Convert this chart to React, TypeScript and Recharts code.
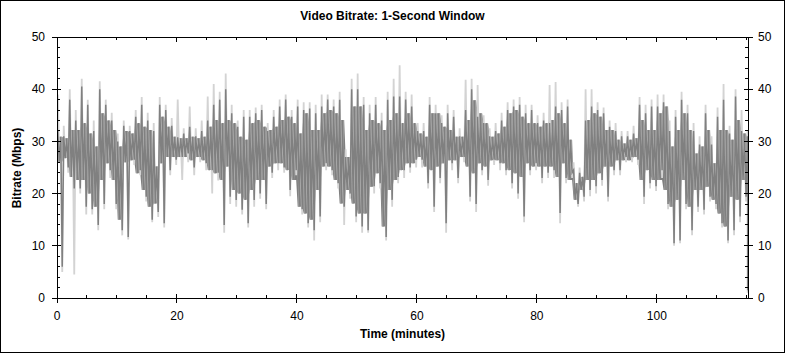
import React from "react";
import { ComposedChart, Area, Line, XAxis, YAxis } from "recharts";

// per-minute readings (Mbps): outer extremes of the dark trace
const hiDark = [
  32, 31, 38, 34, 40.5, 37, 32, 40, 37, 34, 30, 33, 32, 34.7, 37, 34, 32, 37, 36, 33,
  30.8, 31.5, 32.8, 31, 32, 34, 37, 38, 40, 35.4, 32.8, 34.7, 34.7, 35.4, 36, 32, 34.7, 36.7, 38, 34.7,
  36.7, 36, 36.3, 35.4, 36.7, 38, 36.7, 38, 27, 40, 40, 37, 35.4, 37, 34, 38, 38.6, 38.6, 38, 36.7,
  32, 32, 37, 35.4, 33.5, 35.4, 34.7, 31, 36, 40, 34.7, 33.5, 31, 32, 34, 36, 36.7, 37, 35.4, 36,
  33.5, 34, 33.5, 36.7, 36, 36.7, 24.5, 24, 34, 36.7, 36, 35.4, 32.8, 32, 31, 31, 31.5, 37, 35.4, 36.7,
  36.7, 37.5, 32, 34.7, 38, 35.4, 32, 29.4, 35.4, 29.4, 34.7, 38, 31.5, 38.6, 32, 31,
];
const loDark = [
  6, 25, 21, 21, 17.5, 17, 14, 18, 24.5, 18, 13, 11.7, 26.5, 24.5, 19.4, 15, 16.5, 14.3, 24.5, 26.5,
  27, 27.7, 25, 27, 25.8, 24.5, 24, 14, 19.4, 18.8, 16.9, 14.3, 18.8, 20, 18, 24, 25.8, 25, 20.7, 24.5,
  17, 14.3, 13, 15.6, 25.8, 24.5, 22, 17.5, 20, 15.6, 13.7, 13, 21.4, 22, 11.7, 18.8, 23.2, 24.5, 25, 26.5,
  26.5, 22, 17.5, 23, 14.3, 25.8, 23, 27, 19.4, 18, 24.5, 22.6, 26.5, 25.8, 24.5, 22, 20, 15.6, 24.5, 25.8,
  23, 24, 24.5, 16.3, 23, 24, 18, 19.4, 20.7, 21.4, 22.6, 19.4, 24.5, 24.5, 27, 27, 26.5, 19.4, 22, 21.4,
  24.5, 18, 10.5, 11, 18, 13, 17.5, 16.9, 19.4, 18, 14.3, 11, 13, 15.6, 19.4, 1.5,
];
// dense core of the trace
const coreHi = [
  30.9, 30.6, 32.2, 32.2, 33.5, 31.5, 29, 35.4, 34, 32.2, 29, 32, 31.5, 33.5, 32.8, 32.2, 25.2, 34.7, 32.8, 30.9,
  30.6, 30.6, 30.9, 30.6, 30.9, 32.8, 34.1, 33.5, 34.1, 33.5, 30.9, 30.3, 33.5, 34.1, 32.8, 32.2, 32.8, 34.1, 34.7, 33.5,
  31.5, 35.4, 32.2, 32.2, 35.4, 36, 35.4, 34.1, 27, 36.7, 36.7, 32.2, 34.1, 33.5, 32.2, 34.1, 35.4, 33.5, 35.4, 33.5,
  31.5, 30.9, 35.4, 35.4, 32.8, 32.2, 30.9, 30.9, 34.1, 37.9, 35.4, 33.5, 30.9, 31.5, 32.8, 35.4, 36, 34.7, 33.5, 33.5,
  32.8, 33.5, 34.1, 35.4, 33.5, 30.3, 22, 23.2, 34.1, 35.4, 34.7, 32.2, 32.2, 30.3, 29.6, 30.3, 30.6, 34.1, 32.2, 32.2,
  35.4, 36.7, 29, 32.2, 35.4, 32.2, 27.7, 29, 32.2, 25.8, 32.2, 32.2, 30.3, 34.1, 31.5, 30.3,
];
const coreLo = [
  26.1, 26.8, 23.2, 22.6, 22.6, 20, 17.5, 22.6, 25.8, 22.6, 15, 26, 26.4, 23.9, 20.7, 17.5, 18.1, 25.8, 27, 27,
  27, 27, 26.4, 27, 26.4, 24.5, 23.9, 22.6, 25.2, 20.7, 20, 18.8, 20.7, 22.6, 22.6, 25.2, 25.8, 25.8, 24.5, 22.6,
  17.5, 16.2, 15, 20.7, 25.2, 25.2, 22.6, 18.1, 20.7, 18.1, 16.2, 16.2, 21.3, 23.9, 13.7, 20.7, 22.6, 24.5, 25.8, 25.8,
  27, 25.2, 24.5, 25.2, 25.8, 26.4, 26.4, 27, 25.2, 23.9, 25.8, 25.2, 26.4, 26.4, 25.8, 24.5, 23.9, 23.2, 25.8, 25.2,
  25.2, 25.2, 25.2, 23.2, 25.8, 22.6, 18.8, 20.7, 22.6, 22.6, 23.9, 25.2, 25.2, 26.4, 26.4, 26.4, 27, 22.6, 24.5, 22.6,
  22.6, 20.7, 17.5, 18.8, 22.6, 17.5, 20.7, 20.7, 21.3, 18.8, 16.2, 13.7, 19.4, 18.8, 22.6, 25.2,
];
// light grey peaks around the dark trace
const hiLight = [
  39, 33, 40, 36, 42, 38, 34, 41.5, 38, 35.5, 31.5, 34, 33, 36, 38.5, 35.5, 33.5, 38.5, 37, 34.5,
  38, 32.5, 36.7, 32.5, 34, 38.6, 41, 39.5, 43, 37, 34, 36, 36, 36.5, 37, 33.5, 36, 38, 39, 36,
  38, 37.5, 37.5, 37, 39, 39, 38, 39.5, 28.5, 42, 43, 38.5, 37, 38.5, 35.5, 39.5, 42, 44.6, 39.5, 39,
  33.5, 33.5, 38.5, 37, 35, 37, 36, 32.5, 41.8, 42, 40.8, 35, 32.5, 33.5, 35.5, 37.5, 38, 38.5, 37, 37,
  35, 35.5, 40.8, 41.4, 37.5, 38, 26, 25, 40, 40, 37.5, 36.5, 34, 33.5, 32, 32, 33, 38.5, 37, 38,
  39, 39, 34, 36, 39.5, 37, 33.5, 31, 37, 31, 36.5, 41, 33, 40, 36, 32,
];
const loLight = [
  5, 24, 4.5, 20, 16, 16, 13, 17, 23, 17, 12, 11.2, 25.5, 23.5, 18.5, 14.5, 15.5, 13.5, 23.5, 25.5,
  22.6, 26, 23.5, 26, 24.5, 20, 22.5, 12.5, 18, 17.5, 16, 13.5, 17.5, 19, 17, 23, 24.5, 24, 19.5, 23.5,
  16, 13.5, 11, 14.5, 24.5, 23.5, 21, 14, 19, 14.5, 12.5, 12.5, 20, 21, 11, 17.5, 22, 23, 24, 25,
  25, 21, 16.5, 22, 12.5, 24.5, 22, 26, 18.5, 16.5, 23.5, 21.5, 25.5, 24.5, 23.5, 21, 19, 14.5, 23.5, 24.5,
  22, 23, 23, 14.3, 22, 23, 17.5, 18.5, 19.5, 20, 21.5, 18.5, 23.5, 23.5, 26, 26, 25.5, 18, 21, 20.5,
  23, 17, 10, 10.5, 17, 12, 16.5, 16, 18.5, 17, 13.5, 10.5, 12, 14.5, 18.5, 1,
];

const xTicks = [0, 5, 10, 15, 20, 25, 30, 35, 40, 45, 50, 55, 60, 65, 70, 75, 80, 85, 90, 95, 100, 105, 110, 115];
const xLabels = [0, 20, 40, 60, 80, 100];
const yTicks = [0, 2, 4, 6, 8, 10, 12, 14, 16, 18, 20, 22, 24, 26, 28, 30, 32, 34, 36, 38, 40, 42, 44, 46, 48, 50];
const yLabels = [0, 10, 20, 30, 40, 50];

// four samples per minute: peak, core low, core high, trough
const offsets = [0.125, 0.375, 0.625, 0.875];
const rows = hiDark.flatMap((hi, i) =>
  offsets.map((off, k) => ({
    t: Math.min(i + off, 115.15),
    zig: [hi, coreLo[i], coreHi[i], loDark[i]][k],
    halo: [hiLight[i], coreLo[i], coreHi[i], loLight[i]][k],
    core: [coreLo[i], coreHi[i]],
  }))
);

const font = "'Liberation Sans', Arial, sans-serif";

function BottomTick({ x, y, payload }: any) {
  const major = xLabels.includes(payload.value);
  return (
    <g>
      <line x1={x} x2={x} y1={major ? y - 4 : y - 3} y2={major ? y + 5 : y} stroke="#000" shapeRendering="crispEdges" />
      {major && (
        <text x={x} y={y + 22} textAnchor="middle" fontSize={12} fontFamily={font} fill="#000">
          {payload.value}
        </text>
      )}
    </g>
  );
}

function TopTick({ x, y, payload }: any) {
  const major = xLabels.includes(payload.value);
  return <line x1={x} x2={x} y1={y} y2={major ? y + 5 : y + 3} stroke="#000" shapeRendering="crispEdges" />;
}

function LeftTick({ x, y, payload }: any) {
  const major = yLabels.includes(payload.value);
  return (
    <g>
      <line x1={major ? x - 5 : x} x2={major ? x + 4 : x + 3} y1={y} y2={y} stroke="#000" shapeRendering="crispEdges" />
      {major && (
        <text x={x - 12} y={y} dy="0.35em" textAnchor="end" fontSize={12} fontFamily={font} fill="#000">
          {payload.value}
        </text>
      )}
    </g>
  );
}

function RightTick({ x, y, payload }: any) {
  const major = yLabels.includes(payload.value);
  return (
    <g>
      <line x1={major ? x - 4 : x - 3} x2={major ? x + 5 : x} y1={y} y2={y} stroke="#000" shapeRendering="crispEdges" />
      {major && (
        <text x={x + 10} y={y} dy="0.35em" textAnchor="start" fontSize={12} fontFamily={font} fill="#000">
          {payload.value}
        </text>
      )}
    </g>
  );
}

export default function App() {
  const axisLine = { stroke: "#000", shapeRendering: "crispEdges" };
  return (
    <div style={{ position: "relative", width: 785, height: 353, background: "#fff", fontFamily: font }}>
      <style>{`body{margin:0}`}</style>
      <ComposedChart width={785} height={353} data={rows} margin={{ top: 7, right: 0, bottom: 0, left: 0 }}>
        <XAxis
          xAxisId="b"
          type="number"
          dataKey="t"
          domain={[0, 115.2]}
          allowDataOverflow
          ticks={xTicks}
          interval={0}
          tickSize={0}
          tickMargin={0}
          tickLine={false}
          axisLine={axisLine}
          height={55}
          tick={(p: any) => <BottomTick {...p} />}
        />
        <XAxis
          xAxisId="t"
          orientation="top"
          type="number"
          dataKey="t"
          domain={[0, 115.2]}
          allowDataOverflow
          ticks={xTicks}
          interval={0}
          tickSize={0}
          tickMargin={0}
          tickLine={false}
          axisLine={axisLine}
          height={30}
          tick={(p: any) => <TopTick {...p} />}
        />
        <YAxis
          yAxisId="l"
          domain={[0, 50]}
          allowDataOverflow
          ticks={yTicks}
          interval={0}
          tickSize={0}
          tickMargin={0}
          tickLine={false}
          axisLine={axisLine}
          width={57}
          tick={(p: any) => <LeftTick {...p} />}
        />
        <YAxis
          yAxisId="r"
          orientation="right"
          domain={[0, 50]}
          allowDataOverflow
          ticks={yTicks}
          interval={0}
          tickSize={0}
          tickMargin={0}
          tickLine={false}
          axisLine={axisLine}
          width={37}
          tick={(p: any) => <RightTick {...p} />}
        />
        <Line
          xAxisId="t"
          yAxisId="r"
          type="linear"
          dataKey="halo"
          stroke="#d3d3d3"
          strokeWidth={1.8}
          dot={false}
          activeDot={false}
          isAnimationActive={false}
        />
        <Line
          xAxisId="b"
          yAxisId="l"
          type="linear"
          dataKey="zig"
          stroke="#808080"
          strokeWidth={1.5}
          dot={false}
          activeDot={false}
          isAnimationActive={false}
        />
        <Area
          xAxisId="b"
          yAxisId="l"
          type="linear"
          dataKey="core"
          stroke="none"
          fill="#808080"
          fillOpacity={1}
          dot={false}
          activeDot={false}
          isAnimationActive={false}
        />
      </ComposedChart>
      <div style={{ position: "absolute", left: 0, top: 9, width: 785, textAlign: "center", fontSize: 12, fontWeight: "bold" }}>
        Video Bitrate: 1-Second Window
      </div>
      <div style={{ position: "absolute", left: 0, top: 327, width: 805, textAlign: "center", fontSize: 12, fontWeight: "bold" }}>
        Time (minutes)
      </div>
      <div
        style={{
          position: "absolute",
          left: 17,
          top: 168,
          transform: "translate(-50%, -50%) rotate(-90deg)",
          whiteSpace: "nowrap",
          fontSize: 12,
          fontWeight: "bold",
        }}
      >
        Bitrate (Mbps)
      </div>
      <div style={{ position: "absolute", inset: 0, border: "1px solid #000", pointerEvents: "none" }} />
    </div>
  );
}
